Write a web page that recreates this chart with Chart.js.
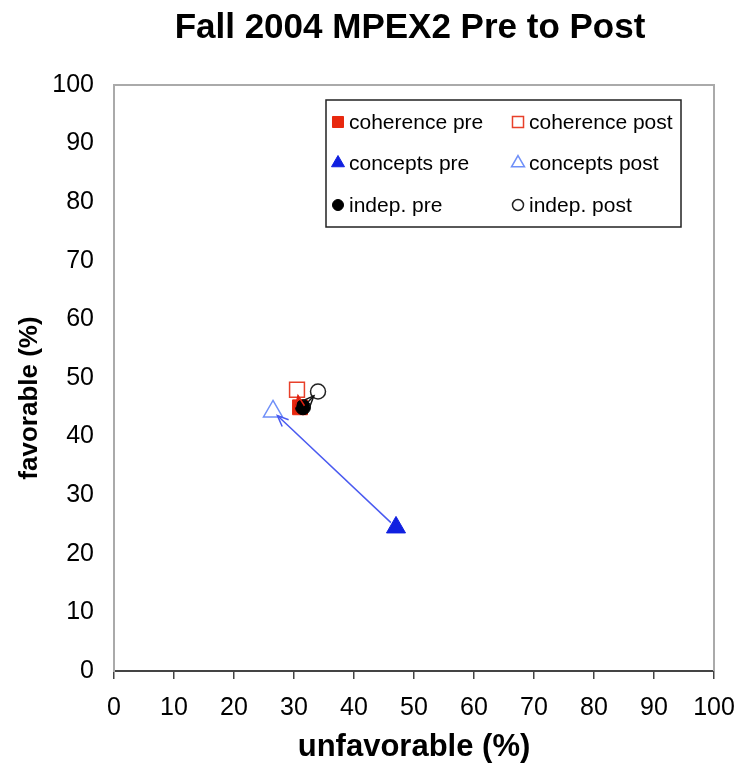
<!DOCTYPE html>
<html>
<head>
<meta charset="utf-8">
<title>Fall 2004 MPEX2 Pre to Post</title>
<script src="https://cdn.jsdelivr.net/npm/chart.js@4.4.0/dist/chart.umd.min.js"></script>
<style>
    html, body { margin: 0; padding: 0; background: #fff; }
</style>
</head>
<body>
<canvas id="myChart" width="740" height="763"></canvas>
<script>
// values (percent)
var groups = ['coherence', 'concepts', 'indep.'];
var preUnfav = [31, 47, 31.5];
var preFav = [45, 24.5, 45];
var postUnfav = [30.5, 26.5, 34];
var postFav = [48, 44.3, 47.7];

var chartTitle = 'Fall 2004 MPEX2 Pre to Post';
var yTitle = 'favorable (%)';

var preColors = ['#e8280e', '#1020e0', '#000000'];
var postColors = ['#e8402a', '#6f8ff8', '#222222'];
var arrowColors = ['#e02010', '#4a5af0', '#111111'];
var shapes = ['rect', 'triangle', 'circle'];
var sizes = [10.5, 11, 7.5];
var legendSizes = [7.8, 7.5, 5.5];
var drawOrder = [2, 4, 0]; // black circle sits on top of the red square

Chart.defaults.font.family = '"Liberation Sans", Arial, sans-serif';
Chart.defaults.color = '#000';

var datasets = [];
groups.forEach(function (g, i) {
    datasets.push({
        label: g + ' pre',
        data: [{ x: preUnfav[i], y: preFav[i] }],
        pointStyle: shapes[i],
        pointRadius: sizes[i],
        backgroundColor: preColors[i],
        borderColor: preColors[i],
        borderWidth: 1,
        order: drawOrder[i]
    });
    datasets.push({
        label: g + ' post',
        data: [{ x: postUnfav[i], y: postFav[i] }],
        pointStyle: shapes[i],
        pointRadius: sizes[i],
        backgroundColor: 'rgba(255,255,255,0)',
        borderColor: postColors[i],
        borderWidth: 1.5,
        order: drawOrder[i] + 1
    });
});

// pre -> post arrows, placed through the scales
var arrowPlugin = {
    id: 'arrows',
    afterDatasetsDraw: function (chart) {
        var ctx = chart.ctx, xs = chart.scales.x, ys = chart.scales.y;
        groups.forEach(function (g, i) {
            var x1 = xs.getPixelForValue(preUnfav[i]), y1 = ys.getPixelForValue(preFav[i]);
            var x2 = xs.getPixelForValue(postUnfav[i]), y2 = ys.getPixelForValue(postFav[i]);
            var ang = Math.atan2(y2 - y1, x2 - x1);
            var sx = x1 + Math.cos(ang) * 7, sy = y1 + Math.sin(ang) * 7;
            var ex = x2 - Math.cos(ang) * 6, ey = y2 - Math.sin(ang) * 6;
            ctx.save();
            ctx.strokeStyle = arrowColors[i];
            ctx.lineWidth = 1.5;
            ctx.beginPath();
            ctx.moveTo(sx, sy);
            ctx.lineTo(ex, ey);
            ctx.stroke();
            ctx.beginPath();
            ctx.moveTo(ex - 12 * Math.cos(ang - 0.4), ey - 12 * Math.sin(ang - 0.4));
            ctx.lineTo(ex, ey);
            ctx.lineTo(ex - 12 * Math.cos(ang + 0.4), ey - 12 * Math.sin(ang + 0.4));
            ctx.stroke();
            ctx.restore();
        });
    }
};

// titles, gray frame on top / right, boxed two column legend
var framePlugin = {
    id: 'frame',
    beforeDatasetsDraw: function (chart) {
        var ctx = chart.ctx, a = chart.chartArea;
        ctx.save();
        ctx.strokeStyle = '#aaaaaa';
        ctx.lineWidth = 2;
        ctx.beginPath();
        ctx.moveTo(a.left, a.top);
        ctx.lineTo(a.right, a.top);
        ctx.lineTo(a.right, a.bottom);
        ctx.stroke();
        ctx.restore();
    },
    afterDraw: function (chart) {
        var ctx = chart.ctx, a = chart.chartArea;
        ctx.save();
        ctx.fillStyle = '#000';
        ctx.font = 'bold 35px "Liberation Sans", Arial, sans-serif';
        ctx.textAlign = 'center';
        ctx.textBaseline = 'middle';
        ctx.fillText(chartTitle, (a.left + a.right) / 2 - 4, 28);

        // y axis title, sits a bit below the plot middle
        ctx.save();
        ctx.translate(30, (a.top + a.bottom) / 2 + 20);
        ctx.rotate(-Math.PI / 2);
        ctx.font = 'bold 26px "Liberation Sans", Arial, sans-serif';
        ctx.fillText(yTitle, 0, 0);
        ctx.restore();
        ctx.textAlign = 'left';

        var bx = a.left + 212, by = a.top + 15;
        ctx.strokeStyle = '#222';
        ctx.lineWidth = 1.5;
        ctx.strokeRect(bx, by, 355, 127);
        ctx.font = '21px "Liberation Sans", Arial, sans-serif';
        var rows = [22, 63, 105];
        groups.forEach(function (g, i) {
            var ry = by + rows[i];
            [0, 1].forEach(function (c) {
                var ds = chart.data.datasets[i * 2 + c];
                var mx = bx + (c === 0 ? 12 : 192);
                ctx.fillStyle = ds.backgroundColor;
                ctx.strokeStyle = ds.borderColor;
                ctx.lineWidth = ds.borderWidth;
                Chart.helpers.drawPoint(ctx, {
                    pointStyle: shapes[i],
                    radius: legendSizes[i],
                    borderWidth: ds.borderWidth,
                    rotation: 0
                }, mx, ry);
                ctx.fillStyle = '#000';
                ctx.fillText(ds.label, mx + 11, ry + 1);
            });
        });
        ctx.restore();
    }
};

var ctx = document.getElementById('myChart');

var scatterChart = new Chart(ctx, {
    type: 'scatter',
    data: { datasets: datasets },
    plugins: [arrowPlugin, framePlugin],
    options: {
        responsive: false,
        animation: false,
        layout: { autoPadding: false, padding: { left: 0, right: 26, top: 85, bottom: 0 } },
        plugins: {
            legend: { display: false },
            tooltip: { enabled: false },
            title: { display: false }
        },
        scales: {
            x: {
                type: 'linear',
                min: 0,
                max: 100,
                ticks: { stepSize: 10, font: { size: 25 }, color: '#000', padding: 14 },
                grid: { drawOnChartArea: false, drawTicks: true, tickLength: 8, color: '#444', lineWidth: 1.5 },
                border: { color: '#444', width: 2 },
                title: { display: true, text: 'unfavorable (%)', font: { size: 31, weight: 'bold' }, color: '#000', padding: { top: 0, bottom: -3 } },
                afterFit: function (scale) {
                    scale.height = 92;
                    scale.paddingLeft = 0;
                    scale.paddingRight = 0;
                }
            },
            y: {
                type: 'linear',
                min: 0,
                max: 100,
                ticks: { stepSize: 10, font: { size: 25 }, color: '#000', padding: 20 },
                grid: { drawOnChartArea: false, drawTicks: false },
                border: { color: '#aaaaaa', width: 2 },
                title: { display: false },
                afterFit: function (scale) { scale.width = 114; }
            }
        }
    }
});
</script>
</body>
</html>
